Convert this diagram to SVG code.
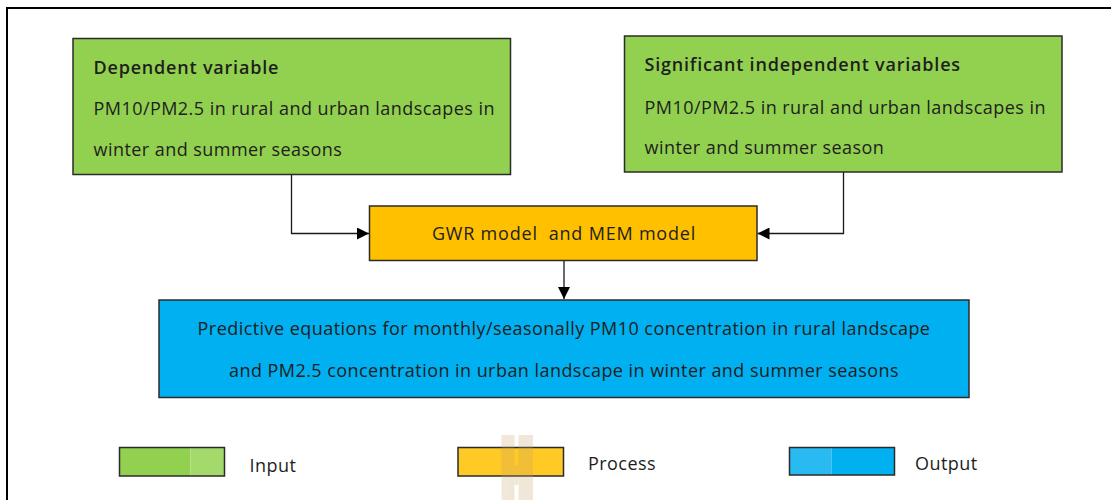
<svg xmlns="http://www.w3.org/2000/svg" width="1111" height="500" viewBox="0 0 1111 500">
  <style>
    .box { stroke: #2b2b2b; stroke-width: 1.5; }
    .in { fill: #92D050; }
    .proc { fill: #FFC000; }
    .out { fill: #00B0F0; }
    .t { font-family: "Open Sans", "Noto Sans", sans-serif; font-size: 18px; letter-spacing: 0.45px; fill: #1e1e1e; }
    .h { font-weight: 600; letter-spacing: 0.8px; }
    .w { letter-spacing: 0.8px; }
    .c { text-anchor: middle; }
    .wire { fill: none; stroke: #1a1a1a; stroke-width: 1.3; }
    .leg { stroke: #2b2b2b; stroke-width: 1.5; fill: none; }
  </style>
  <defs>
    <marker id="arrow" viewBox="0 0 10 10" refX="10" refY="5" markerWidth="12" markerHeight="12" markerUnits="userSpaceOnUse" orient="auto">
      <path d="M0,0 L10,5 L0,10 Z" fill="#000"/>
    </marker>
  </defs>

  <rect width="1111" height="500" fill="#fff"/>

  <!-- frame -->
  <path d="M7,500 V8 H1111" fill="none" stroke="#000" stroke-width="2"/>

  <!-- connectors -->
  <g id="connectors">
    <path class="wire" d="M291.5,175 V233.5 H369" marker-end="url(#arrow)"/>
    <path class="wire" d="M843.5,172 V233.5 H757.5" marker-end="url(#arrow)"/>
    <path class="wire" d="M564,261 V299" marker-end="url(#arrow)"/>
  </g>

  <g id="dependent">
    <rect class="box in" x="73" y="38.5" width="437.5" height="136"/>
    <text class="t h" x="93.5" y="73.5">Dependent variable</text>
    <text class="t" x="93.5" y="115">PM10/PM2.5 in rural and urban landscapes in</text>
    <text class="t" x="93.5" y="156">winter and summer seasons</text>
  </g>

  <g id="independent">
    <rect class="box in" x="624.5" y="36" width="437.5" height="136"/>
    <text class="t h" x="644.5" y="71">Significant independent variables</text>
    <text class="t" x="644.5" y="114">PM10/PM2.5 in rural and urban landscapes in</text>
    <text class="t" x="644.5" y="154">winter and summer season</text>
  </g>

  <g id="model">
    <rect class="box proc" x="369.5" y="206" width="387.5" height="54.5"/>
    <text class="t c w" x="564" y="240" xml:space="preserve">GWR model  and MEM model</text>
  </g>

  <g id="equations">
    <rect class="box out" x="159" y="300" width="810" height="97.5"/>
    <text class="t c" x="564" y="335">Predictive equations for monthly/seasonally PM10 concentration in rural landscape</text>
    <text class="t c" x="564" y="376.5">and PM2.5 concentration in urban landscape in winter and summer seasons</text>
  </g>

  <!-- legend -->
  <g id="legend-input">
    <rect x="119.5" y="447.5" width="71" height="28.5" fill="#92D050"/>
    <rect x="190.5" y="447.5" width="34" height="28.5" fill="#A4D96C"/>
    <rect class="leg" x="119.5" y="447.5" width="105" height="28.5"/>
    <text class="t" x="249.5" y="472">Input</text>
  </g>

  <g id="legend-process">
    <rect x="458" y="447.5" width="105.5" height="28.5" fill="#FFC926"/>
    <rect class="leg" x="458" y="447.5" width="105.5" height="28.5"/>
    <text class="t" x="588" y="470">Process</text>
  </g>

  <g id="legend-output">
    <rect x="789.5" y="447.5" width="42" height="27.5" fill="#29BAF2"/>
    <rect x="831.5" y="447.5" width="63" height="27.5" fill="#00B0F0"/>
    <rect class="leg" x="789.5" y="447.5" width="105" height="27.5"/>
    <text class="t" x="915" y="470">Output</text>
  </g>

  <!-- faint mark over the process swatch -->
  <g fill="#C8A46A" opacity="0.25">
    <rect x="501.5" y="435" width="13" height="65"/>
    <rect x="518.5" y="435" width="14.5" height="65"/>
    <rect x="514.5" y="465" width="4" height="20"/>
  </g>
</svg>
